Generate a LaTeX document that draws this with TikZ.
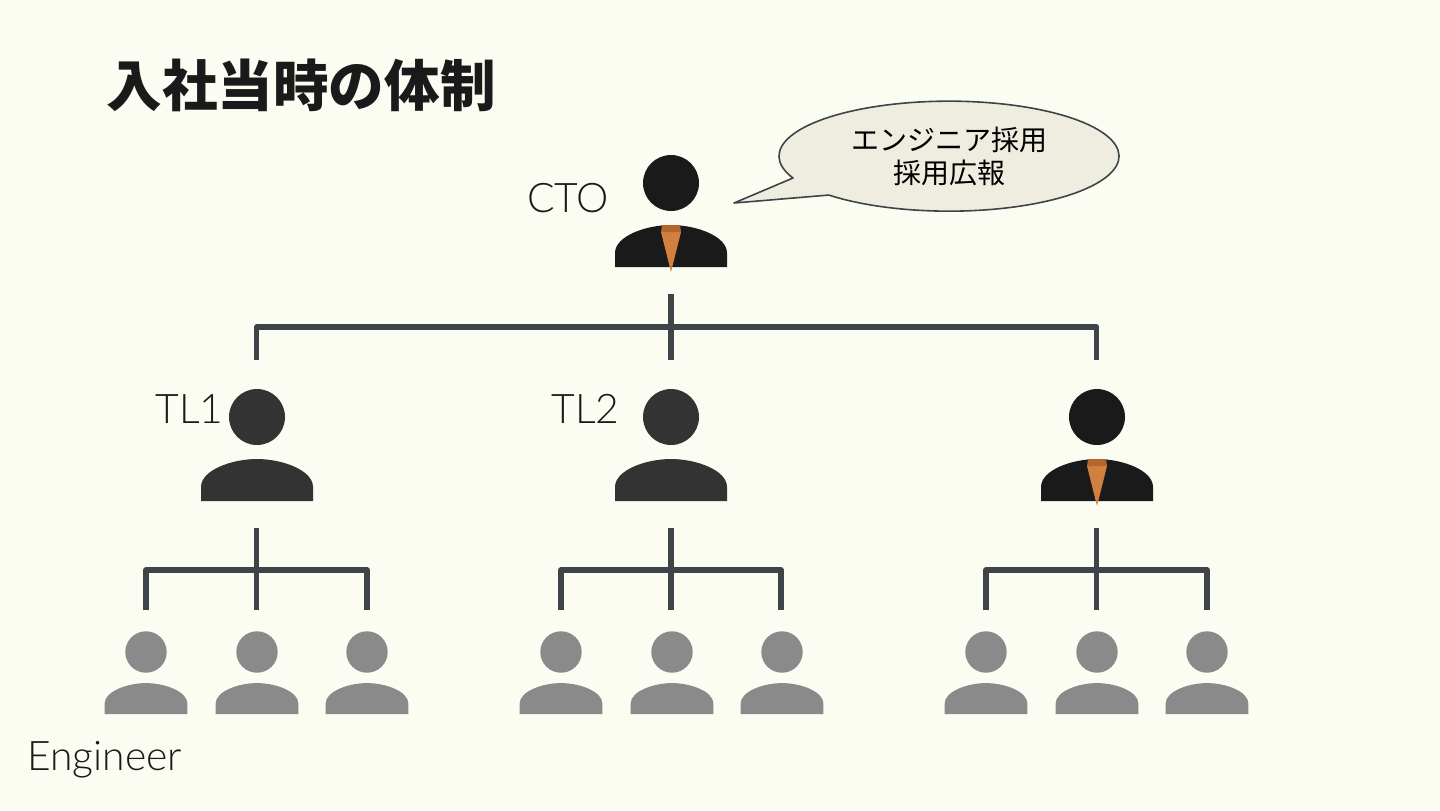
\documentclass[tikz,border=0pt]{standalone}
\usepackage{fontspec}
\usepackage{xcolor}
\setmainfont{Lato}[UprightFont=* Light]
\newfontfamily\jpfont{Noto Sans CJK JP}
\usetikzlibrary{calc}
\definecolor{paper}{HTML}{FBFDF3}
\definecolor{ink}{HTML}{1A1A1A}
\definecolor{lead}{HTML}{333333}
\definecolor{staff}{HTML}{8A8A8A}
\definecolor{wire}{HTML}{3F4449}
\definecolor{tie}{HTML}{D2803F}
\definecolor{knot}{HTML}{B5652F}
\definecolor{bubble}{HTML}{EEEDDF}
\tikzset{
  person/.pic={
    \fill (0,0) circle (28);
    \fill (-56,84) -- (-56,70) .. controls (-56,53) and (-25,42) .. (0,42)
      .. controls (25,42) and (56,53) .. (56,70) -- (56,84) -- cycle;
  },
  officer/.pic={
    \pic[ink] {person};
    \fill[tie] (-10,49) -- (10,49) -- (0,89) -- cycle;
    \fill[knot] (-9,42) -- (9,42) -- (10,49) -- (-10,49) -- cycle;
  },
  wire/.style={draw=wire,line width=2.6pt},
  label/.style={anchor=base west,inner sep=0pt,font=\fontsize{20.4}{24}\selectfont,text=ink},
}
\begin{document}
\begin{tikzpicture}[x=0.5pt,y=-0.5pt,line join=round]
  \fill[paper] (0,0) rectangle (1440,810);
  \useasboundingbox (0,0) rectangle (1440,810);
  % heads of the tree
  \coordinate (CTO) at (671,183);
  \coordinate (L1) at (257,417);
  \coordinate (L2) at (671,417);
  \coordinate (L3) at (1097,417);
  % connectors, top level
  \coordinate (CTOa) at (671,294);
  \coordinate (La) at (256.7,327);
  \coordinate (Lb) at (1096.7,327);
  \coordinate (L1t) at (256.7,360);
  \coordinate (L2t) at (671,360);
  \coordinate (L3t) at (1096.7,360);
  \draw[wire] (CTOa) -- (L2t);
  \draw[wire] (L1t) -- (La) -- (Lb) -- (L3t);
  % connectors, second level
  \coordinate (L1a) at (256.7,528);
  \coordinate (L1b) at (256.7,610);
  \coordinate (L1c) at (146,610);
  \coordinate (L1d) at (146,570);
  \coordinate (L1e) at (367,570);
  \coordinate (L1f) at (367,610);
  \draw[wire] (L1a) -- (L1b);
  \draw[wire] (L1c) -- (L1d) -- (L1e) -- (L1f);
  \coordinate (L2a) at (671,528);
  \coordinate (L2b) at (671,610);
  \coordinate (L2c) at (561,610);
  \coordinate (L2d) at (561,570);
  \coordinate (L2e) at (781,570);
  \coordinate (L2f) at (781,610);
  \draw[wire] (L2a) -- (L2b);
  \draw[wire] (L2c) -- (L2d) -- (L2e) -- (L2f);
  \coordinate (L3a) at (1096.7,528);
  \coordinate (L3b) at (1096.7,610);
  \coordinate (L3c) at (986,610);
  \coordinate (L3d) at (986,570);
  \coordinate (L3e) at (1207,570);
  \coordinate (L3f) at (1207,610);
  \draw[wire] (L3a) -- (L3b);
  \draw[wire] (L3c) -- (L3d) -- (L3e) -- (L3f);
  % people
  \pic at (CTO) {officer};
  \pic[lead] at (L1) {person};
  \pic[lead] at (L2) {person};
  \pic at (L3) {officer};
  \pic[staff,scale=0.74] at (146,652) {person};
  \pic[staff,scale=0.74] at (257,652) {person};
  \pic[staff,scale=0.74] at (367,652) {person};
  \pic[staff,scale=0.74] at (561,652) {person};
  \pic[staff,scale=0.74] at (672,652) {person};
  \pic[staff,scale=0.74] at (782,652) {person};
  \pic[staff,scale=0.74] at (986,652) {person};
  \pic[staff,scale=0.74] at (1097,652) {person};
  \pic[staff,scale=0.74] at (1207,652) {person};
  % speech bubble
  \draw[fill=bubble,draw=wire,line width=0.8pt] (793,178) arc[start angle=156.6,end angle=495,x radius=170,y radius=55] -- (734,203) -- cycle;
  \node[align=center,inner sep=0pt,font=\jpfont\fontsize{14}{16.5}\selectfont,text=black] (Bubble) at (949,156) {エンジニア採用\\採用広報};
  % texts
  \node[anchor=base west,inner sep=0pt,font=\jpfont\bfseries\fontsize{27.8}{32}\selectfont,text=ink] (Title) at (106,106) {入社当時の体制};
  \node[label] (LabelCTO) at (527,212) {CTO};
  \node[label] (LabelTLa) at (155,423) {TL1};
  \node[label] (LabelTLb) at (551,423) {TL2};
  \node[label] (LabelEng) at (27,770) {Engineer};
\end{tikzpicture}
\end{document}
